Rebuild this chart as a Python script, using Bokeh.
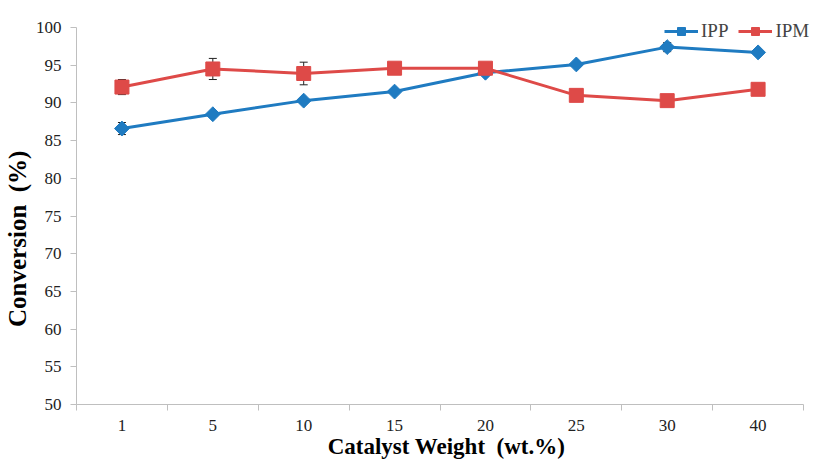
import math
from bokeh.plotting import figure
from bokeh.models import (FixedTicker, ColumnDataSource, Whisker, TeeHead, Legend, LegendItem, Range1d)
from bokeh.embed import file_html
from bokeh.resources import INLINE

categories = ["1", "5", "10", "15", "20", "25", "30", "40"]
ipp = [86.6, 88.5, 90.3, 91.5, 94.0, 95.1, 97.4, 96.7]
ipp_err = [0.8, 0.0, 0.0, 0.0, 0.0, 0.0, 0.6, 0.0]
ipm = [92.1, 94.5, 93.9, 94.6, 94.6, 91.0, 90.3, 91.8]
ipm_err = [1.0, 1.4, 1.5, 0.0, 0.0, 0.0, 0.0, 0.0]
y_ticks = [50, 55, 60, 65, 70, 75, 80, 85, 90, 95, 100]

BLUE = "#1f7bc1"
RED = "#de4a48"
FONT = "Liberation Serif"

xs = list(range(1, len(categories) + 1))
n = len(categories)

# frame spans y=10..404 px; 100 should sit at y=27 -> extend range above 100 (axis bounded to 50..100)
y_top = 50 + 50 * (404 - 10) / (404 - 27)
# frame spans x=75..816 px; axis ends at x=803 -> extend range right (axis bounded)
x_end = 0.5 + n * (816 - 75) / (803 - 75)

p = figure(width=816, height=463, output_backend="svg", toolbar_location=None,
           x_range=Range1d(0.5, x_end), y_range=Range1d(50, y_top),
           min_border_left=75, min_border_right=0, min_border_top=10, min_border_bottom=59)
p.outline_line_color = None
p.grid.visible = False
p.background_fill_color = "white"
p.border_fill_color = "white"

# x axis: labels at category centers, tick marks at boundaries (minor ticks)
p.xaxis.ticker = FixedTicker(ticks=xs, minor_ticks=[x - 0.5 for x in xs] + [n + 0.5])
p.xaxis.bounds = (0.5, n + 0.5)
p.xaxis.major_label_overrides = {x: c for x, c in zip(xs, categories)}
p.xaxis.major_tick_line_color = None
p.xaxis.minor_tick_line_color = "#bfbfbf"
p.xaxis.minor_tick_out = 6
p.xaxis.minor_tick_in = 0
p.xaxis.axis_line_color = "#bfbfbf"
p.xaxis.major_label_standoff = 9

p.yaxis.ticker = FixedTicker(ticks=y_ticks)
p.yaxis.bounds = (50, 100)
p.yaxis.minor_tick_line_color = None
p.yaxis.major_tick_line_color = "#bfbfbf"
p.yaxis.major_tick_out = 6
p.yaxis.major_tick_in = 0
p.yaxis.axis_line_color = "#bfbfbf"
p.yaxis.major_label_standoff = 9

for ax in (p.xaxis, p.yaxis):
    ax.major_label_text_font = FONT
    ax.major_label_text_font_size = "17px"
    ax.major_label_text_color = "#222222"
    ax.axis_label_text_font = FONT
    ax.axis_label_text_font_style = "bold"
    ax.axis_label_text_color = "#000000"

p.xaxis.axis_label_text_font_size = "23px"
p.yaxis.axis_label_text_font_size = "25px"
p.xaxis.axis_label = "Catalyst Weight\u00a0 (wt.%)"
# trailing non-breaking spaces nudge the vertical title down to where the reference has it
p.yaxis.axis_label = "Conversion\u00a0 (%)" + "\u00a0" * 10
p.xaxis.axis_label_standoff = 0
p.yaxis.axis_label_standoff = 2

src = ColumnDataSource(dict(
    x=xs, ipp=ipp, ipm=ipm,
    ipp_lo=[v - e for v, e in zip(ipp, ipp_err)], ipp_hi=[v + e for v, e in zip(ipp, ipp_err)],
    ipm_lo=[v - e for v, e in zip(ipm, ipm_err)], ipm_hi=[v + e for v, e in zip(ipm, ipm_err)],
))

for lo, hi in (("ipp_lo", "ipp_hi"), ("ipm_lo", "ipm_hi")):
    w = Whisker(base="x", lower=lo, upper=hi, source=src, line_color="#222222", line_width=1,
                upper_head=TeeHead(size=8, line_color="#222222", line_width=1),
                lower_head=TeeHead(size=8, line_color="#222222", line_width=1))
    p.add_layout(w)

l1 = p.line("x", "ipp", source=src, line_color=BLUE, line_width=3)
m1 = p.scatter("x", "ipp", source=src, marker="square", angle=math.pi / 4, size=10.5,
               fill_color=BLUE, line_color=BLUE)
l2 = p.line("x", "ipm", source=src, line_color=RED, line_width=3)
m2 = p.scatter("x", "ipm", source=src, marker="square", size=14, fill_color=RED, line_color=RED)

legend = Legend(items=[LegendItem(label="IPP", renderers=[l1, m1]),
                       LegendItem(label="IPM", renderers=[l2, m2])],
                orientation="horizontal", location=(588, 362),
                label_text_font=FONT, label_text_font_size="19px",
                background_fill_alpha=0, border_line_color=None,
                glyph_width=34, glyph_height=20, spacing=10, label_standoff=3, padding=2, margin=0)
p.add_layout(legend, "center")

open("out.html", "w").write(file_html(p, INLINE))
